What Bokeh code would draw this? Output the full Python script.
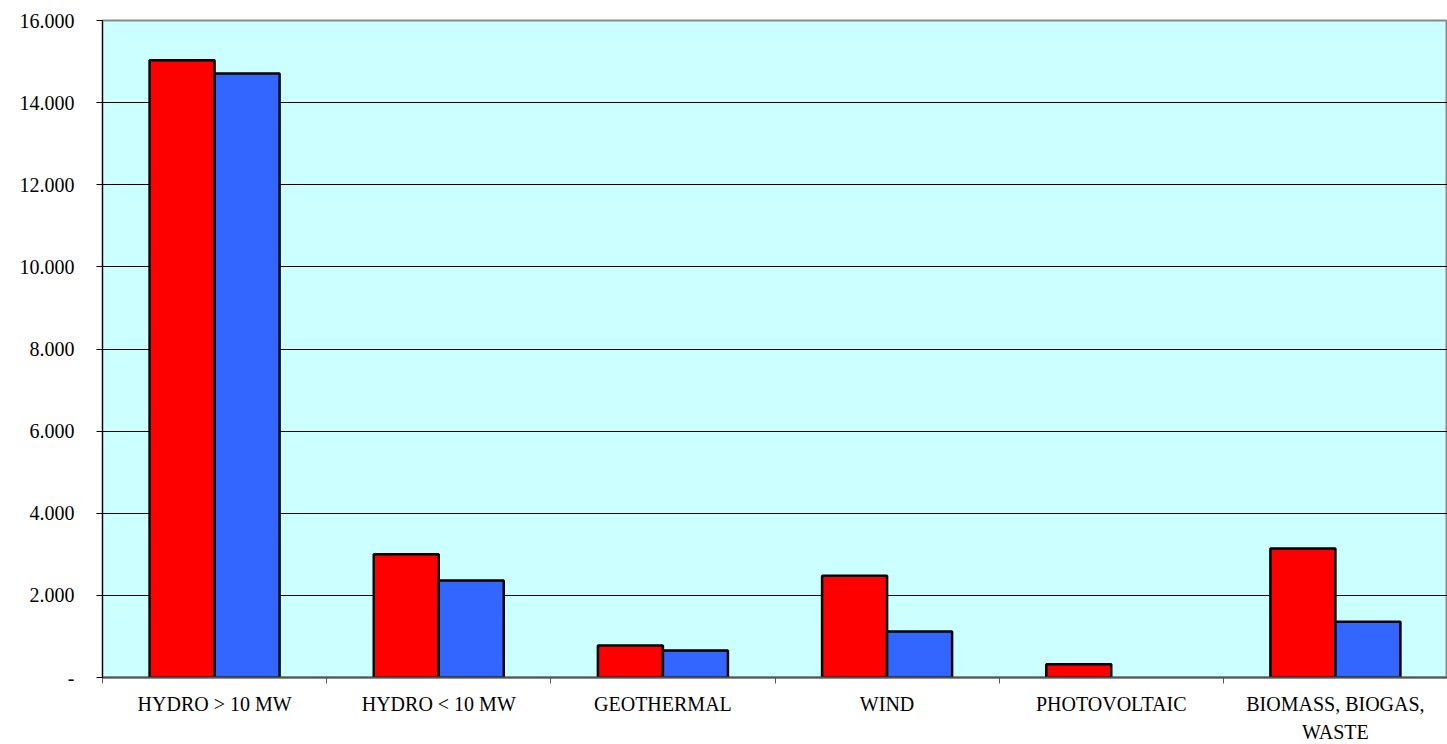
from bokeh.plotting import figure
from bokeh.models import FixedTicker, ColumnDataSource, Range1d
from bokeh.embed import file_html
from bokeh.resources import INLINE

categories = ["HYDRO > 10 MW", "HYDRO < 10 MW", "GEOTHERMAL", "WIND", "PHOTOVOLTAIC", "BIOMASS, BIOGAS,\nWASTE"]
series_red = [15030, 3000, 780, 2480, 320, 3140]
series_blue = [14710, 2360, 660, 1120, 0, 1360]
y_ticks = [0, 2000, 4000, 6000, 8000, 10000, 12000, 14000, 16000]
y_tick_labels = ["-", "2.000", "4.000", "6.000", "8.000", "10.000", "12.000", "14.000", "16.000"]

n = len(categories)
centers = [i + 0.5 for i in range(n)]
BAR_W = 0.29
nan = float("nan")
src = ColumnDataSource(dict(
    xr=[c - BAR_W / 2 for c in centers],
    xb=[c + BAR_W / 2 for c in centers],
    red=[v if v else nan for v in series_red],
    blue=[v if v else nan for v in series_blue]))

FONT = "'Liberation Serif', 'Times New Roman', serif"

p = figure(x_range=Range1d(0, n), y_range=Range1d(0, 16000),
           frame_width=1345, frame_height=657, output_backend="svg", toolbar_location=None,
           min_border_left=102, min_border_right=0, min_border_top=20, min_border_bottom=0)
p.background_fill_color = "#ccffff"
p.border_fill_color = "white"
p.outline_line_color = "#888888"
p.outline_line_width = 2

p.vbar(x="xr", top="red", width=BAR_W, source=src,
       fill_color="#ff0000", line_color="black", line_width=2.5)
p.vbar(x="xb", top="blue", width=BAR_W, source=src,
       fill_color="#3366ff", line_color="black", line_width=2.5)

p.xgrid.visible = False
p.ygrid.grid_line_color = "black"
p.ygrid.grid_line_width = 1
p.ygrid.ticker = FixedTicker(ticks=y_ticks)

p.yaxis.ticker = FixedTicker(ticks=y_ticks)
p.yaxis.major_label_overrides = {t: l for t, l in zip(y_ticks, y_tick_labels)}
p.yaxis.minor_tick_line_color = None
p.yaxis.major_tick_out = 6
p.yaxis.major_tick_in = 0
p.yaxis.axis_line_color = "black"
p.yaxis.major_tick_line_color = "black"
p.yaxis.major_label_standoff = 22
p.yaxis.major_label_text_font = FONT
p.yaxis.major_label_text_font_size = "20px"
p.yaxis.major_label_text_color = "black"

p.xaxis.ticker = FixedTicker(ticks=centers, minor_ticks=list(range(n + 1)))
p.xaxis.major_label_overrides = {c: lab for c, lab in zip(centers, categories)}
p.xaxis.major_tick_line_color = None
p.xaxis.major_tick_out = 0
p.xaxis.major_tick_in = 0
p.xaxis.minor_tick_out = 6
p.xaxis.minor_tick_in = 0
p.xaxis.minor_tick_line_color = "#555555"
p.xaxis.axis_line_color = "#555555"
p.xaxis.axis_line_width = 2
p.xaxis.major_label_standoff = 9
p.xaxis.major_label_text_font = FONT
p.xaxis.major_label_text_font_size = "20px"
p.xaxis.major_label_text_color = "black"
p.xaxis.major_label_text_line_height = 1.3

open("out.html", "w").write(file_html(p, INLINE))
